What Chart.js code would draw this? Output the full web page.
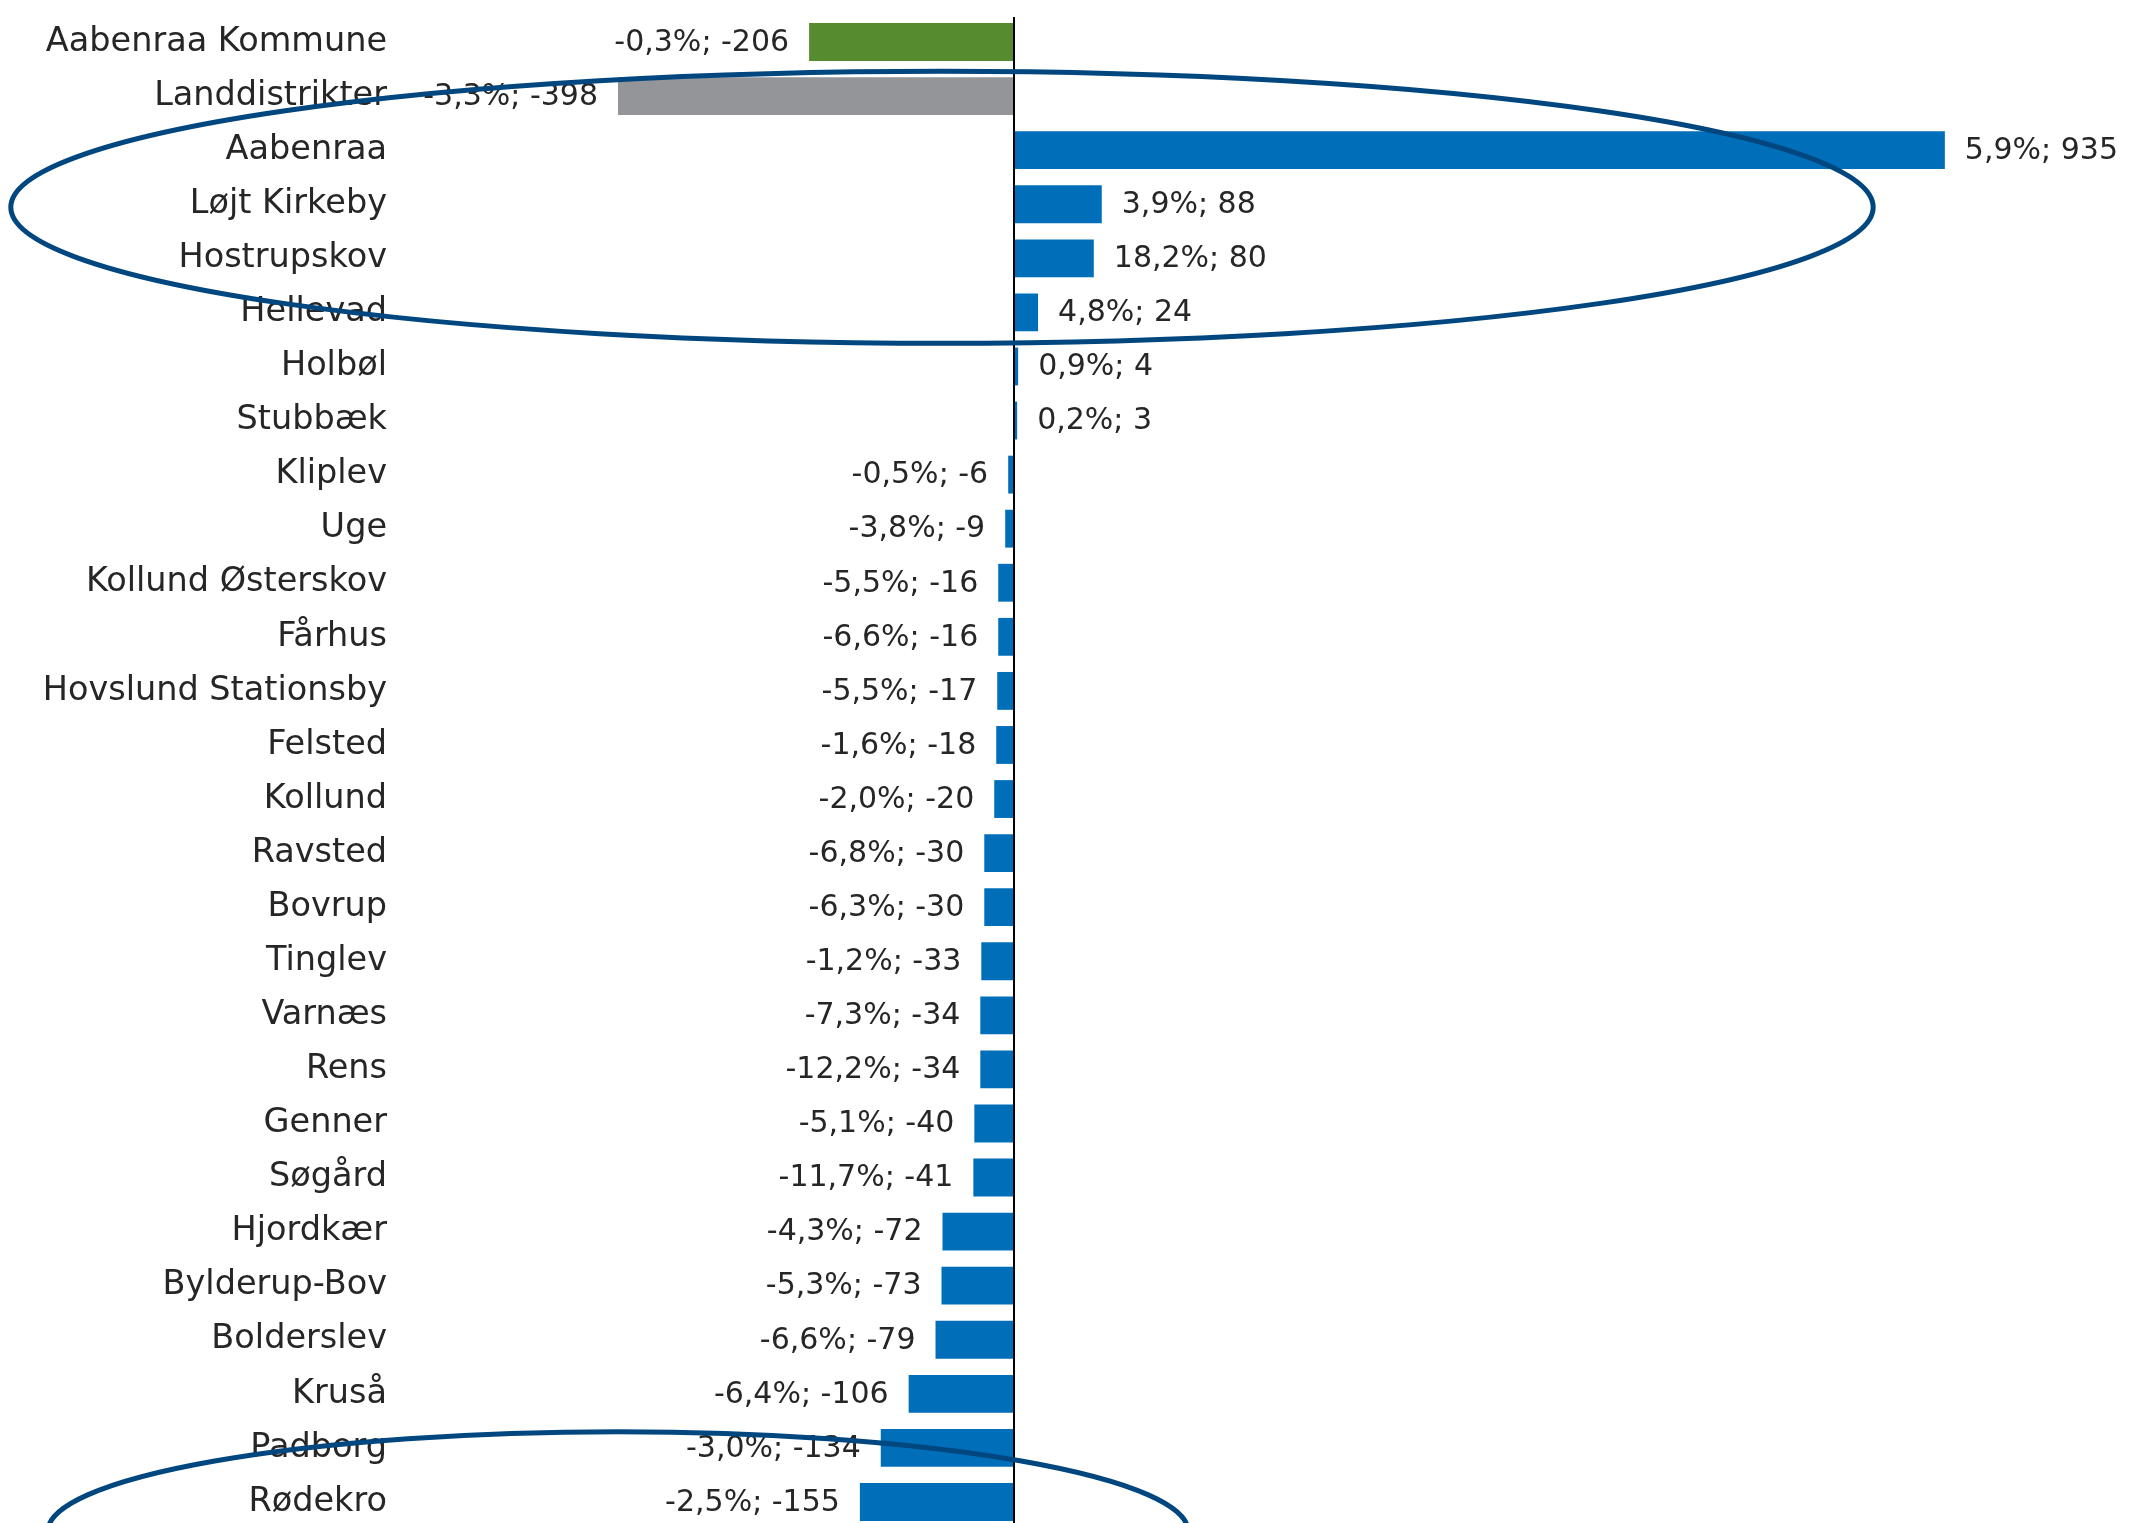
<!DOCTYPE html>
<html>
<head>
<meta charset="utf-8">
<script src="https://cdn.jsdelivr.net/npm/chart.js@4.4.1/dist/chart.umd.min.js"></script>
<style>
    html, body { margin: 0; padding: 0; background: #fff; overflow: hidden; }
    #wrap { position: absolute; left: 0; top: 0; width: 2129px; height: 1529px; }
</style>
</head>
<body>
<div id="wrap"><canvas id="BarChartBy"></canvas></div>
<script>
const areas = ['Aabenraa Kommune', 'Landdistrikter', 'Aabenraa', 'Løjt Kirkeby', 'Hostrupskov', 'Hellevad',
    'Holbøl', 'Stubbæk', 'Kliplev', 'Uge', 'Kollund Østerskov', 'Fårhus', 'Hovslund Stationsby', 'Felsted',
    'Kollund', 'Ravsted', 'Bovrup', 'Tinglev', 'Varnæs', 'Rens', 'Genner', 'Søgård', 'Hjordkær',
    'Bylderup-Bov', 'Bolderslev', 'Kruså', 'Padborg', 'Rødekro'];
const changeCount = [-206, -398, 935, 88, 80, 24, 4, 3, -6, -9, -16, -16, -17, -18, -20, -30, -30, -33,
    -34, -34, -40, -41, -72, -73, -79, -106, -134, -155];
const changePct = [-0.3, -3.3, 5.9, 3.9, 18.2, 4.8, 0.9, 0.2, -0.5, -3.8, -5.5, -6.6, -5.5, -1.6, -2.0,
    -6.8, -6.3, -1.2, -7.3, -12.2, -5.1, -11.7, -4.3, -5.3, -6.6, -6.4, -3.0, -2.5];

Chart.defaults.font.family = 'DejaVu Sans';

const barColors = areas.map((a, i) => i === 0 ? '#568B2F' : (i === 1 ? '#939598' : '#006EB9'));

// circled groups, in axis units (x = count, y = category index)
const rings = [
    { x1: -1008, x2: 863, y1: 0.54, y2: 5.57 },
    { x1: -971, x2: 175, y1: 25.7, y2: 29.4 }
];

const labelPlugin = {
    id: 'labelPlugin',
    afterDatasetsDraw(chart) {
        const ctx = chart.ctx;
        const xs = chart.scales.x;
        const area = chart.chartArea;

        // zero line
        ctx.save();
        ctx.strokeStyle = '#000';
        ctx.lineWidth = 2;
        const x0 = Math.round(xs.getPixelForValue(0));
        ctx.beginPath();
        ctx.moveTo(x0, area.top + 2);
        ctx.lineTo(x0, area.bottom);
        ctx.stroke();

        ctx.font = '30px "DejaVu Sans"';
        ctx.fillStyle = '#262626';
        ctx.textBaseline = 'middle';
        chart.getDatasetMeta(0).data.forEach((bar, i) => {
            const v = changeCount[i];
            const txt = changePct[i].toFixed(1).replace('.', ',') + '%; ' + v;
            if (v < 0) {
                ctx.textAlign = 'right';
                ctx.fillText(txt, bar.x - 20, bar.y + 1);
            } else {
                ctx.textAlign = 'left';
                ctx.fillText(txt, bar.x + 20, bar.y + 1);
            }
        });
        ctx.restore();
    },
    afterDraw(chart) {
        const ctx = chart.ctx;
        const xs = chart.scales.x;
        const ys = chart.scales.y;
        ctx.save();
        ctx.strokeStyle = '#00467F';
        ctx.lineWidth = 5;
        for (const r of rings) {
            const a = xs.getPixelForValue(r.x1), b = xs.getPixelForValue(r.x2);
            const c = ys.getPixelForValue(r.y1), d = ys.getPixelForValue(r.y2);
            ctx.beginPath();
            ctx.ellipse((a + b) / 2, (c + d) / 2, Math.abs(b - a) / 2, Math.abs(d - c) / 2, 0, 0, Math.PI * 2);
            ctx.stroke();
        }
        ctx.restore();
    }
};

const ctx = document.getElementById('BarChartBy').getContext('2d');
const myChart = new Chart(ctx, {
    type: 'bar',
    data: {
        labels: areas,
        datasets: [{
            data: changeCount,
            backgroundColor: barColors,
            borderWidth: 0,
            barPercentage: 0.7,
            categoryPercentage: 1
        }]
    },
    options: {
        indexAxis: 'y',
        responsive: true,
        maintainAspectRatio: false,
        animation: false,
        layout: { padding: { top: 15, right: 0, bottom: 0, left: 0 } },
        scales: {
            x: {
                display: false,
                min: -617,
                max: 1120
            },
            y: {
                afterFit(scale) {
                    scale.width = 400;
                    scale.paddingTop = 0;
                    scale.paddingBottom = 0;
                },
                grid: { display: false, drawTicks: false },
                border: { display: false },
                ticks: {
                    padding: 13,
                    color: '#262626',
                    font: { size: 33.5 }
                }
            }
        },
        plugins: {
            legend: { display: false },
            tooltip: { enabled: false }
        }
    },
    plugins: [labelPlugin]
});
</script>
</body>
</html>
